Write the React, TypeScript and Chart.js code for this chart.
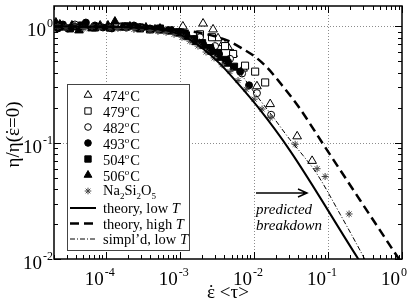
import React, { useEffect, useRef } from "react";
import { Chart, registerables } from "chart.js";

Chart.register(...registerables);

const SERIF = '"Liberation Serif", "DejaVu Serif", serif';

// ---- axes ----
const X_MIN = 2e-5;
const X_MAX = 1;
const Y_MIN = 0.01;
const Y_MAX = 1.5;
const xTickExps = [-4, -3, -2, -1, 0];
const yTickExps = [-2, -1, 0];
const xGridValues = [1e-4, 1e-3, 1e-2, 1e-1];
const yGridValues = [1e-1, 1];

// ---- measured data ----
const x474 = [2.4e-5, 4.35e-5, 8.4e-5, 1.56e-4, 2.9e-4, 5.4e-4, 1.1e-3, 2.06e-3, 2.81e-3, 3.28e-3, 3.84e-3, 4.48e-3, 5.24e-3, 7.14e-3, 0.011, 0.0166, 0.0384, 0.0611];
const y474 = [1.0, 0.98, 1.02, 0.98, 0.97, 0.96, 1.0, 1.06, 0.943, 0.792, 0.719, 0.665, 0.58, 0.434, 0.306, 0.215, 0.1135, 0.0698];

const x479 = [1.14e-4, 1.93e-4, 2.9e-4, 5.4e-4, 1.01e-3, 1.87e-3, 2.72e-3, 4.08e-3, 5.24e-3, 7.6e-3, 0.0104, 0.0142];
const y479 = [0.98, 1.0, 0.98, 0.96, 0.89, 0.856, 0.808, 0.678, 0.58, 0.46, 0.409, 0.33];

const x482 = [3.84e-5, 1.93e-4, 5.4e-4, 1.87e-3, 2.99e-3, 4.76e-3, 6.93e-3, 0.011, 0.0171];
const y482 = [1.04, 0.98, 0.962, 0.808, 0.678, 0.527, 0.394, 0.267, 0.174];

const x493 = [2.26e-5, 2.64e-5, 3.08e-5, 3.84e-5, 5.39e-5, 7.14e-5, 9.16e-5, 1.21e-4, 1.82e-4, 2.4e-4, 3.08e-4, 3.95e-4, 5.4e-4, 6.93e-4, 8.89e-4, 1.17e-3, 1.56e-3, 2.06e-3, 2.64e-3, 3.39e-3, 4.48e-3, 6.52e-3, 8.61e-3];
const y493 = [0.962, 1.04, 0.962, 1.0, 1.081, 1.02, 0.98, 0.962, 1.0, 1.02, 0.98, 0.962, 0.962, 0.925, 0.89, 0.856, 0.777, 0.705, 0.639, 0.58, 0.497, 0.409, 0.312];

const x504 = [2.4e-5, 3.28e-5, 4.77e-5, 7.14e-5, 1.14e-4, 1.82e-4, 2.9e-4, 3.95e-4, 5.4e-4, 7.38e-4, 9.46e-4, 1.21e-3, 1.56e-3, 2.0e-3, 2.56e-3, 3.28e-3, 4.21e-3, 5.4e-3];
const y504 = [1.0, 0.962, 1.02, 0.98, 0.98, 1.0, 0.962, 0.943, 0.943, 0.925, 0.89, 0.839, 0.777, 0.719, 0.652, 0.592, 0.516, 0.451];

const x506 = [2.12e-5, 2.4e-5, 2.81e-5, 3.49e-5, 4.35e-5, 5.24e-5, 6.52e-5, 8.36e-5, 1.07e-4, 1.33e-4, 1.66e-4, 2.12e-4, 2.72e-4, 3.49e-4, 4.62e-4, 5.93e-4, 7.85e-4, 1.01e-3, 1.29e-3, 1.66e-3, 2.12e-3, 2.72e-3, 3.49e-3, 4.48e-3];
const y506 = [1.081, 1.04, 0.98, 1.02, 0.925, 1.0, 0.962, 1.0, 1.02, 1.102, 0.98, 1.0, 0.962, 0.98, 0.943, 0.925, 0.907, 0.873, 0.808, 0.733, 0.678, 0.603, 0.537, 0.478];

const xNa = [2.26e-5, 2.9e-5, 3.84e-5, 5.07e-5, 6.52e-5, 8.36e-5, 1.14e-4, 1.46e-4, 1.87e-4, 2.4e-4, 3.08e-4, 3.95e-4, 5.07e-4, 6.52e-4, 8.36e-4, 1.07e-3, 1.37e-3, 1.76e-3, 2.26e-3, 2.9e-3, 3.72e-3, 4.76e-3, 6.11e-3, 7.85e-3, 0.0101, 0.0129, 0.0166, 0.0361, 0.0714, 0.0916, 0.193];
const yNa = [1.0, 0.98, 1.02, 0.962, 1.0, 0.98, 0.98, 0.962, 0.962, 0.943, 0.962, 0.925, 0.907, 0.89, 0.856, 0.808, 0.747, 0.678, 0.603, 0.537, 0.469, 0.409, 0.343, 0.288, 0.237, 0.195, 0.164, 0.097, 0.0598, 0.0512, 0.0244];

// ---- theory curves ----
const lowTx = [2e-5, 2.9e-4, 7.4e-4, 1.26e-3, 2.04e-3, 3.47e-3, 5.89e-3, 0.0115, 0.0309, 0.257, 0.3];
const lowTy = [1.0, 0.977, 0.912, 0.794, 0.646, 0.479, 0.331, 0.2, 0.0851, 0.01, 0.0086];

const highTx = [2e-5, 3.95e-4, 8.6e-4, 1.71e-3, 2.99e-3, 4.62e-3, 7.14e-3, 0.0104, 0.0151, 0.024, 0.0395, 0.0916, 0.889, 1.0];
const highTy = [1.0, 0.98, 0.943, 0.89, 0.823, 0.747, 0.639, 0.548, 0.443, 0.312, 0.207, 0.0916, 0.0102, 0.0091];

const simpX = [2e-5, 3.95e-4, 1.01e-3, 1.87e-3, 3.49e-3, 6.52e-3, 0.011, 0.0176, 0.0308, 0.0462, 0.0714, 0.146, 0.308, 0.35];
const simpY = [1.0, 0.98, 0.89, 0.777, 0.58, 0.394, 0.252, 0.171, 0.106, 0.0776, 0.0537, 0.0243, 0.0102, 0.0087];

// ---- legend ----
type Tok = { t: string; k?: "sup" | "sub" | "it" };
const legendTemps = ["474", "479", "482", "493", "504", "506"];
const legendMarkers = ["tri-open", "rect-open", "circle-open", "circle", "rect", "tri", "star"];
const legendLines: Tok[][] = [
  [{ t: "theory, low " }, { t: "T", k: "it" }],
  [{ t: "theory, high " }, { t: "T", k: "it" }],
  [{ t: "simpl\u2019d, low " }, { t: "T", k: "it" }],
];
const naLabel: Tok[] = [{ t: "Na" }, { t: "2", k: "sub" }, { t: "Si" }, { t: "2", k: "sub" }, { t: "O" }, { t: "5", k: "sub" }];

const pts = (xs: number[], ys: number[]) => xs.map((x, i) => ({ x, y: ys[i] }));

function marker(ctx: CanvasRenderingContext2D, style: string, x: number, y: number, r: number) {
  const open = style.endsWith("-open");
  const s = style.replace("-open", "");
  ctx.save();
  ctx.lineWidth = 1;
  ctx.strokeStyle = s === "star" ? "#444" : "#000";
  ctx.fillStyle = open ? "#fff" : "#000";
  ctx.setLineDash([]);
  ctx.beginPath();
  if (s === "tri") {
    ctx.moveTo(x, y - r);
    ctx.lineTo(x + 0.866 * r, y + 0.5 * r);
    ctx.lineTo(x - 0.866 * r, y + 0.5 * r);
    ctx.closePath();
    ctx.fill();
    ctx.stroke();
  } else if (s === "rect") {
    const h = r * Math.SQRT1_2;
    ctx.rect(x - h, y - h, 2 * h, 2 * h);
    ctx.fill();
    ctx.stroke();
  } else if (s === "circle") {
    ctx.arc(x, y, r, 0, Math.PI * 2);
    ctx.fill();
    ctx.stroke();
  } else if (s === "star") {
    for (let i = 0; i < 4; i++) {
      const a = (i * Math.PI) / 4;
      ctx.moveTo(x - Math.cos(a) * r, y - Math.sin(a) * r);
      ctx.lineTo(x + Math.cos(a) * r, y + Math.sin(a) * r);
    }
    ctx.stroke();
  }
  ctx.restore();
}

function rich(ctx: CanvasRenderingContext2D, toks: Tok[], x: number, base: number, size: number) {
  let cx = x;
  for (const tk of toks) {
    let dy = 0;
    let sz = size;
    let st = "";
    if (tk.k === "sup") { sz = Math.round(size * 0.62); dy = -size * 0.42; }
    if (tk.k === "sub") { sz = Math.round(size * 0.62); dy = size * 0.25; }
    if (tk.k === "it") st = "italic ";
    ctx.font = `${st}${sz}px ${SERIF}`;
    ctx.fillText(tk.t, cx, base + dy);
    cx += ctx.measureText(tk.t).width + (tk.k === "sup" ? 1 : 0);
  }
}

// text with an epsilon-dot: parts before, epsilon with a dot above, parts after
function epsText(ctx: CanvasRenderingContext2D, before: string, after: string, cx: number, base: number, size: number) {
  ctx.font = `${size}px ${SERIF}`;
  const wb = ctx.measureText(before).width;
  const we = ctx.measureText("\u03B5").width;
  const wa = ctx.measureText(after).width;
  const x0 = cx - (wb + we + wa) / 2;
  ctx.textAlign = "left";
  ctx.fillText(before, x0, base);
  ctx.fillText("\u03B5", x0 + wb, base);
  const wd = ctx.measureText("\u02D9").width;
  ctx.fillText("\u02D9", x0 + wb + we / 2 - wd / 2, base + size * 0.02);
  ctx.fillText(after, x0 + wb + we, base);
}

export default function App() {
  const ref = useRef<HTMLCanvasElement>(null);

  useEffect(() => {
    const canvas = ref.current;
    if (!canvas) return;

    const decor = {
      id: "decor",
      beforeDatasetsDraw(chart: any) {
        const { ctx, chartArea: a, scales } = chart;
        ctx.save();
        ctx.strokeStyle = "#8c8c8c";
        ctx.lineWidth = 1;
        ctx.setLineDash([1, 2]);
        for (const v of xGridValues) {
          const px = Math.round(scales.x.getPixelForValue(v)) + 0.5;
          ctx.beginPath(); ctx.moveTo(px, a.top); ctx.lineTo(px, a.bottom); ctx.stroke();
        }
        for (const v of yGridValues) {
          const py = Math.round(scales.y.getPixelForValue(v)) + 0.5;
          ctx.beginPath(); ctx.moveTo(a.left, py); ctx.lineTo(a.right, py); ctx.stroke();
        }
        ctx.restore();
      },
      afterDatasetsDraw(chart: any) {
        const { ctx, chartArea: a, scales } = chart;
        const sx = scales.x, sy = scales.y;
        ctx.save();
        ctx.setLineDash([]);
        ctx.strokeStyle = "#000";
        ctx.fillStyle = "#000";
        // ticks
        ctx.lineWidth = 1;
        for (let d = -5; d <= 0; d++) {
          for (let k = 1; k <= 9; k++) {
            const v = k * Math.pow(10, d);
            if (v < X_MIN * 0.999 || v > X_MAX * 1.001) continue;
            const len = k === 1 ? 7 : 4;
            const px = Math.round(sx.getPixelForValue(v)) + 0.5;
            ctx.beginPath();
            ctx.moveTo(px, a.bottom); ctx.lineTo(px, a.bottom - len);
            ctx.moveTo(px, a.top); ctx.lineTo(px, a.top + len);
            ctx.stroke();
          }
        }
        for (let d = -2; d <= 0; d++) {
          for (let k = 1; k <= 9; k++) {
            const v = k * Math.pow(10, d);
            if (v < Y_MIN * 0.999 || v > Y_MAX * 1.001) continue;
            const len = k === 1 ? 7 : 4;
            const py = Math.round(sy.getPixelForValue(v)) + 0.5;
            ctx.beginPath();
            ctx.moveTo(a.left, py); ctx.lineTo(a.left + len, py);
            ctx.moveTo(a.right, py); ctx.lineTo(a.right - len, py);
            ctx.stroke();
          }
        }
        // frame
        ctx.lineWidth = 1.5;
        ctx.strokeRect(a.left, a.top, a.right - a.left, a.bottom - a.top);

        // tick labels
        ctx.textAlign = "left";
        ctx.textBaseline = "alphabetic";
        for (const e of xTickExps) {
          const px = sx.getPixelForValue(Math.pow(10, e));
          ctx.font = `19px ${SERIF}`;
          const wb = ctx.measureText("10").width;
          const x0 = px - 2 - wb;
          ctx.fillText("10", x0, 285);
          ctx.font = `12px ${SERIF}`;
          ctx.fillText(String(e), x0 + wb + 1, 276);
        }
        for (const e of yTickExps) {
          const py = sy.getPixelForValue(Math.pow(10, e));
          ctx.font = `12px ${SERIF}`;
          const ws = ctx.measureText(String(e)).width;
          ctx.font = `19px ${SERIF}`;
          const wb = ctx.measureText("10").width;
          const x0 = 53 - ws - 1 - wb;
          ctx.fillText("10", x0, py + 10);
          ctx.font = `12px ${SERIF}`;
          ctx.fillText(String(e), x0 + wb + 1, py + 1);
        }

        // axis titles
        epsText(ctx, "", " <\u03C4>", (a.left + a.right) / 2, 298, 19);
        ctx.save();
        ctx.translate(19, (a.top + a.bottom) / 2 + 2);
        ctx.rotate(-Math.PI / 2);
        epsText(ctx, "\u03B7/\u03B7(", "=0)", 0, 0, 19);
        ctx.restore();
        ctx.textAlign = "left";

        // annotation
        ctx.lineWidth = 1.5;
        ctx.beginPath();
        ctx.moveTo(256, 193); ctx.lineTo(307, 193);
        ctx.moveTo(298, 189); ctx.lineTo(307, 193); ctx.lineTo(298, 197);
        ctx.stroke();
        ctx.font = `italic 15px ${SERIF}`;
        ctx.fillText("predicted", 256, 214);
        ctx.fillText("breakdown", 256, 230);

        // legend
        ctx.fillStyle = "#fff";
        ctx.fillRect(67, 84, 122, 166);
        ctx.strokeStyle = "#444";
        ctx.lineWidth = 1;
        ctx.strokeRect(67.5, 84.5, 122, 166);
        ctx.fillStyle = "#000";
        for (let i = 0; i < 7; i++) {
          const yy = 95 + i * 16;
          const st = legendMarkers[i];
          const r = st.startsWith("tri") ? 4.5 : st.startsWith("rect") ? 4.5 : 3.3;
          marker(ctx, st, 88, yy, r);
          if (i < 6) {
            rich(ctx, [{ t: legendTemps[i] }, { t: "o", k: "sup" }, { t: "C" }], 103, yy + 6, 14.5);
          } else {
            rich(ctx, naLabel, 103, yy + 4, 14.5);
          }
        }
        const lineStyles = [
          { w: 2, dash: [] as number[] },
          { w: 2.5, dash: [9, 5] },
          { w: 1, dash: [5, 2, 1, 2] },
        ];
        for (let i = 0; i < 3; i++) {
          const yy = 208 + i * 15.5;
          ctx.save();
          ctx.lineWidth = lineStyles[i].w;
          ctx.setLineDash(lineStyles[i].dash);
          ctx.strokeStyle = "#000";
          ctx.beginPath(); ctx.moveTo(70, yy); ctx.lineTo(96, yy); ctx.stroke();
          ctx.restore();
          rich(ctx, legendLines[i], 103, yy + 5, 14.5);
        }
        ctx.restore();
      },
    };

    const markerDs = (data: any, style: string, r: number, open: boolean, order: number) => ({
      data,
      showLine: false,
      pointStyle: style,
      pointRadius: r,
      pointBackgroundColor: open ? "#fff" : "#000",
      pointBorderColor: style === "star" ? "#444" : "#000",
      pointBorderWidth: 1,
      order,
    });
    const lineDs = (data: any, w: number, dash: number[]) => ({
      data,
      showLine: true,
      pointRadius: 0,
      borderColor: "#000",
      borderWidth: w,
      borderDash: dash,
      cubicInterpolationMode: "monotone" as const,
      order: 0,
    });

    const chart = new Chart(canvas, {
      type: "scatter",
      data: {
        datasets: [
          lineDs(pts(lowTx, lowTy), 2, []),
          lineDs(pts(highTx, highTy), 2.5, [9, 5]),
          lineDs(pts(simpX, simpY), 1, [5, 2, 1, 2]),
          markerDs(pts(xNa, yNa), "star", 3.5, false, 1),
          markerDs(pts(x506, y506), "triangle", 5, false, 2),
          markerDs(pts(x504, y504), "rect", 5, false, 3),
          markerDs(pts(x493, y493), "circle", 3.5, false, 4),
          markerDs(pts(x482, y482), "circle", 3.5, true, 5),
          markerDs(pts(x479, y479), "rect", 5, true, 6),
          markerDs(pts(x474, y474), "triangle", 5, true, 7),
        ] as any,
      },
      options: {
        animation: false,
        responsive: false,
        devicePixelRatio: 1,
        layout: { padding: { left: 54, right: 13, top: 2, bottom: 44 } },
        scales: {
          x: { type: "logarithmic", min: X_MIN, max: X_MAX, display: false },
          y: { type: "logarithmic", min: Y_MIN, max: Y_MAX, display: false },
        },
        plugins: { legend: { display: false }, tooltip: { enabled: false } },
        events: [],
      },
      plugins: [decor],
    });
    return () => chart.destroy();
  }, []);

  return (
    <div style={{ position: "fixed", left: 0, top: 0, width: 415, height: 303, background: "#fff" }}>
      <canvas ref={ref} width={415} height={303} style={{ width: 415, height: 303, display: "block" }} />
    </div>
  );
}
